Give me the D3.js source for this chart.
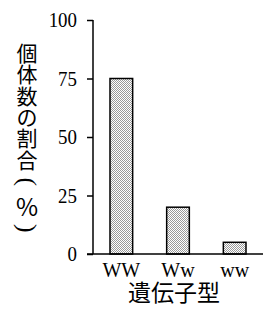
<!DOCTYPE html>
<html>
<head>
<meta charset="utf-8">
<script src="https://cdn.jsdelivr.net/npm/d3@7"></script>
<style>
  body { margin: 0; background: #fff; }
  svg { display: block; }
</style>
</head>
<body>
<div id="chart"></div>
<script>
var genotypes = ["WW", "Ww", "ww"];
var ratios = [75, 20, 5];
var y_ticks = [0, 25, 50, 75, 100];
var y_title = ["個", "体", "数", "の", "割", "合", "(", "%", ")"];

var width = 263, height = 315;
var margin = {top: 20, right: 0, bottom: 61, left: 93};

var svg = d3.select("#chart").append("svg")
  .attr("width", width)
  .attr("height", height);

// checker fill for the bars
var pat = svg.append("defs").append("pattern")
  .attr("id", "dots")
  .attr("width", 2).attr("height", 2)
  .attr("patternUnits", "userSpaceOnUse");
pat.append("rect").attr("width", 2).attr("height", 2).attr("fill", "#fff");
pat.append("rect").attr("width", 1).attr("height", 1).attr("fill", "#999");
pat.append("rect").attr("x", 1).attr("y", 1).attr("width", 1).attr("height", 1).attr("fill", "#999");

var x_scale = d3.scaleBand()
  .domain(genotypes)
  .range([margin.left, width - margin.right])
  .paddingInner(0.6)
  .paddingOuter(0.3);

var y_scale = d3.scaleLinear()
  .domain([0, 100])
  .range([height - margin.bottom, margin.top]);

var serif = "'Liberation Serif', 'DejaVu Serif', serif";
var cjk = "'Noto Sans CJK JP', sans-serif";

// bars
svg.selectAll(".bar")
  .data(genotypes).enter()
  .append("rect")
  .attr("class", "bar")
  .attr("x", d => x_scale(d))
  .attr("width", x_scale.bandwidth())
  .attr("y", (d, i) => y_scale(ratios[i]))
  .attr("height", (d, i) => y_scale(0) - y_scale(ratios[i]))
  .attr("fill", "url(#dots)")
  .attr("stroke", "#000")
  .attr("stroke-width", 1.5);

// y axis
var y_axis = svg.append("g")
  .attr("transform", "translate(" + margin.left + ",0)")
  .call(d3.axisLeft(y_scale).tickValues(y_ticks).tickSize(6).tickSizeOuter(0).tickPadding(9));
y_axis.select(".domain").attr("stroke-width", 1.5)
  .attr("d", "M0," + y_scale(100) + "V" + y_scale(0));
y_axis.selectAll(".tick line").attr("stroke-width", 1.5);
y_axis.selectAll(".tick text")
  .style("font-family", serif)
  .style("font-size", "21px")
  .attr("fill", "#000")
  .attr("transform", "scale(0.9,1)")
  .attr("x", -16 / 0.9);

// x baseline
svg.append("line")
  .attr("x1", margin.left - 6).attr("x2", width)
  .attr("y1", y_scale(0)).attr("y2", y_scale(0))
  .attr("stroke", "#000").attr("stroke-width", 1.5);

// category labels
svg.selectAll(".cat")
  .data(genotypes).enter()
  .append("text")
  .attr("class", "cat")
  .attr("x", d => x_scale(d) + x_scale.bandwidth() / 2)
  .attr("y", 277)
  .attr("text-anchor", "middle")
  .style("font-family", serif)
  .style("font-size", "20px")
  .text(d => d);

// x title
svg.append("text")
  .attr("x", 174)
  .attr("y", 301)
  .attr("text-anchor", "middle")
  .style("font-family", cjk)
  .style("font-size", "23px")
  .text("遺伝子型");

// y title, one glyph per row; brackets are turned for vertical setting
var ylab_x = 27;
var is_bracket = d => d == "(" || d == ")";
var ylab_pos = (d, i) => 52 + i * 21.3 + (d == "(" ? 2 : d == "%" ? 4 : d == ")" ? 6 : 0);
var ylab = svg.selectAll(".y-label")
  .data(y_title).enter()
  .append("g")
  .attr("class", "y-label")
  .attr("transform", (d, i) => "translate(" + ylab_x + "," + ylab_pos(d, i) + ")" +
    (is_bracket(d) ? " rotate(90)" : ""));
ylab.append("text")
  .attr("text-anchor", "middle")
  .attr("dominant-baseline", "central")
  .style("font-family", d => is_bracket(d) ? serif : cjk)
  .style("font-size", d => is_bracket(d) ? "26px" : d == "%" ? "24px" : "21px")
  .style("font-weight", d => is_bracket(d) ? "300" : "normal")
  .text(d => d);
</script>
</body>
</html>
